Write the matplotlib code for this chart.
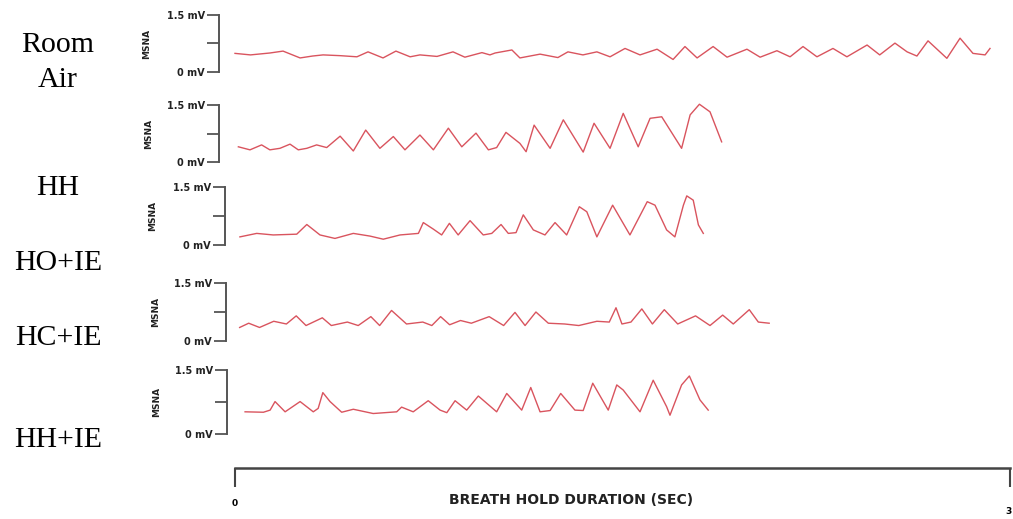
import matplotlib.pyplot as plt

# MSNA traces during a breath hold, (time in s, amplitude in mV)
room_air = [(0.0, 0.49), (0.6, 0.45), (1.35, 0.50), (1.86, 0.55), (2.52, 0.37), (3.0, 0.42),
            (3.41, 0.45), (4.07, 0.43), (4.72, 0.40), (5.15, 0.53), (5.73, 0.37), (6.23, 0.55),
            (6.78, 0.40), (7.16, 0.45), (7.82, 0.41), (8.44, 0.53), (8.90, 0.39), (9.56, 0.51),
            (9.87, 0.45), (10.07, 0.50), (10.72, 0.58), (11.03, 0.37), (11.81, 0.47), (12.50, 0.38),
            (12.89, 0.53), (13.47, 0.45), (14.01, 0.53), (14.52, 0.40), (15.10, 0.62), (15.68, 0.45),
            (16.34, 0.60), (16.96, 0.33), (17.42, 0.67), (17.89, 0.37), (18.51, 0.67), (19.05, 0.39),
            (19.82, 0.60), (20.33, 0.39), (20.98, 0.56), (21.49, 0.40), (21.99, 0.67), (22.53, 0.40),
            (23.15, 0.62), (23.69, 0.40), (24.47, 0.71), (24.96, 0.45), (25.55, 0.76), (26.02, 0.53),
            (26.40, 0.42), (26.83, 0.82), (27.56, 0.36), (28.07, 0.89), (28.57, 0.49), (29.04, 0.45),
            (29.23, 0.62)]

hh = [(0.13, 0.40), (0.58, 0.32), (1.03, 0.45), (1.35, 0.32), (1.74, 0.36), (2.13, 0.47),
      (2.45, 0.32), (2.78, 0.36), (3.16, 0.45), (3.55, 0.38), (4.07, 0.68), (4.58, 0.29),
      (5.06, 0.84), (5.61, 0.36), (6.13, 0.67), (6.58, 0.32), (7.16, 0.71), (7.68, 0.32),
      (8.26, 0.89), (8.78, 0.40), (9.33, 0.76), (9.81, 0.32), (10.13, 0.38), (10.49, 0.78),
      (11.03, 0.49), (11.27, 0.27), (11.58, 0.97), (12.20, 0.36), (12.71, 1.11), (13.48, 0.26),
      (13.90, 1.02), (14.52, 0.36), (15.03, 1.28), (15.61, 0.40), (16.07, 1.15), (16.52, 1.19),
      (17.29, 0.36), (17.62, 1.24), (17.98, 1.52), (18.39, 1.32), (18.84, 0.53)]

ho_ie = [(0.19, 0.21), (0.84, 0.30), (1.48, 0.26), (2.39, 0.28), (2.78, 0.53), (3.29, 0.26),
         (3.87, 0.17), (4.58, 0.30), (5.23, 0.23), (5.74, 0.15), (6.39, 0.26), (7.10, 0.30),
         (7.29, 0.58), (7.68, 0.41), (8.00, 0.26), (8.30, 0.56), (8.64, 0.26), (9.10, 0.63),
         (9.61, 0.26), (9.94, 0.30), (10.30, 0.53), (10.58, 0.30), (10.88, 0.32), (11.16, 0.78),
         (11.55, 0.39), (12.00, 0.26), (12.39, 0.58), (12.84, 0.26), (13.33, 0.99), (13.62, 0.86),
         (14.01, 0.21), (14.62, 1.03), (15.29, 0.26), (15.96, 1.12), (16.26, 1.03), (16.71, 0.39),
         (17.03, 0.21), (17.36, 1.03), (17.49, 1.27), (17.74, 1.16), (17.94, 0.52), (18.13, 0.30)]

hc_ie = [(0.18, 0.35), (0.53, 0.46), (0.95, 0.35), (1.50, 0.51), (1.99, 0.44), (2.37, 0.65),
         (2.75, 0.40), (3.38, 0.60), (3.73, 0.40), (4.35, 0.49), (4.77, 0.40), (5.26, 0.63),
         (5.60, 0.40), (6.06, 0.79), (6.64, 0.44), (7.27, 0.49), (7.62, 0.40), (7.96, 0.63),
         (8.31, 0.42), (8.73, 0.53), (9.15, 0.46), (9.84, 0.63), (10.40, 0.40), (10.84, 0.74),
         (11.23, 0.40), (11.65, 0.75), (12.13, 0.46), (12.76, 0.44), (13.31, 0.40), (14.01, 0.51),
         (14.49, 0.49), (14.75, 0.86), (14.98, 0.44), (15.33, 0.49), (15.75, 0.83), (16.16, 0.44),
         (16.62, 0.81), (17.14, 0.44), (17.83, 0.65), (18.39, 0.40), (18.88, 0.67), (19.29, 0.44),
         (19.91, 0.81), (20.26, 0.49), (20.68, 0.46)]

hh_ie = [(0.39, 0.52), (1.10, 0.51), (1.36, 0.56), (1.55, 0.76), (1.94, 0.52), (2.52, 0.76),
         (3.03, 0.52), (3.22, 0.60), (3.40, 0.97), (3.68, 0.76), (4.13, 0.51), (4.58, 0.58),
         (5.35, 0.48), (6.26, 0.52), (6.45, 0.63), (6.90, 0.52), (7.48, 0.78), (7.94, 0.56),
         (8.20, 0.50), (8.52, 0.78), (8.97, 0.56), (9.42, 0.89), (10.13, 0.52), (10.52, 0.95),
         (11.10, 0.56), (11.45, 1.09), (11.81, 0.52), (12.20, 0.55), (12.61, 0.95), (13.16, 0.56),
         (13.48, 0.55), (13.85, 1.19), (14.45, 0.56), (14.78, 1.15), (15.03, 1.03), (15.68, 0.52),
         (16.19, 1.26), (16.71, 0.64), (16.84, 0.44), (17.29, 1.15), (17.59, 1.36), (18.00, 0.80),
         (18.32, 0.56)]

traces = [room_air, hh, ho_ie, hc_ie, hh_ie]
y_ticks = [0, 0.75, 1.5]
y_tick_labels = ['0 mV', '', '1.5 mV']
x_ticks = [0, 30]
x_tick_labels = ['0', '3']

# condition names on the left, (text, x px, y px)
cond_labels = [('Room', 58, 45), ('Air', 58, 80), ('HH', 58, 188),
               ('HO+IE', 58, 263), ('HC+IE', 58, 338), ('HH+IE', 58, 440)]

W, H = 1013, 519
T0_X, PX_PER_S, X_END = 235, 25.83, 1010
trace_col = '#d9545e'
axis_col = '#555555'

# per panel: bracket x, y of 1.5 mV, y of 0 mV, x of the MSNA label (pixels)
panels = [(219, 15, 72, 147), (219, 105, 162, 149), (225, 187, 245, 153),
          (226, 283, 341, 156), (227, 370, 434, 157)]

fig = plt.figure(figsize=(W / 100, H / 100), dpi=100)


def px_axes(x0, y_top, x1, y_bot):
    return fig.add_axes([x0 / W, 1 - y_bot / H, (x1 - x0) / W, (y_bot - y_top) / H])


for trace, (xb, yt, yb, mx) in zip(traces, panels):
    ax = px_axes(xb, yt, X_END, yb)
    ax.patch.set_alpha(0)
    t = [p[0] for p in trace]
    v = [p[1] for p in trace]
    ax.plot(t, v, color=trace_col, lw=1.0, clip_on=False)
    ax.set_xlim((xb - T0_X) / PX_PER_S, (X_END - T0_X) / PX_PER_S)
    ax.set_ylim(0, 1.5)
    for s in ['top', 'right', 'bottom']:
        ax.spines[s].set_visible(False)
    ax.spines['left'].set_color(axis_col)
    ax.spines['left'].set_linewidth(1.4)
    ax.set_xticks([])
    ax.set_yticks(y_ticks)
    ax.set_yticklabels(y_tick_labels, fontweight='bold', fontsize=7, color='#222222')
    ax.tick_params(axis='y', length=9, width=1.3, color=axis_col, pad=1)
    fig.text(mx / W, 1 - (yt + yb) / 2 / H, 'MSNA', rotation=90, ha='center', va='center',
             fontsize=6.5, fontweight='bold', color='#222222')

for txt, x, y in cond_labels:
    fig.text(x / W, 1 - y / H, txt, ha='center', va='center', fontsize=21.5,
             family='Liberation Serif', color='black')

# time scale bracket along the bottom
axb = px_axes(T0_X, 468, X_END, 488)
axb.patch.set_alpha(0)
axb.set_xlim(0, (X_END - T0_X) / PX_PER_S)
axb.set_ylim(0, 1)
for s in ['left', 'right', 'bottom']:
    axb.spines[s].set_visible(False)
axb.spines['top'].set_color('#444444')
axb.spines['top'].set_linewidth(1.8)
axb.set_yticks([])
axb.set_xticks(x_ticks)
axb.tick_params(axis='x', top=True, bottom=False, labelbottom=False, direction='in',
                length=14, width=1.5, color='#444444')
axb.text(x_ticks[0], -0.75, x_tick_labels[0], ha='center', va='center',
         fontsize=6.5, fontweight='bold')
axb.text(x_ticks[1] + 0.05, -1.2, x_tick_labels[1], ha='right', va='center',
         fontsize=6.5, fontweight='bold')
axb.text(13.0, -0.6, 'BREATH HOLD DURATION (SEC)', ha='center', va='center',
         fontsize=10, fontweight='bold', color='#222222')

fig.savefig('out.png', dpi=100)
